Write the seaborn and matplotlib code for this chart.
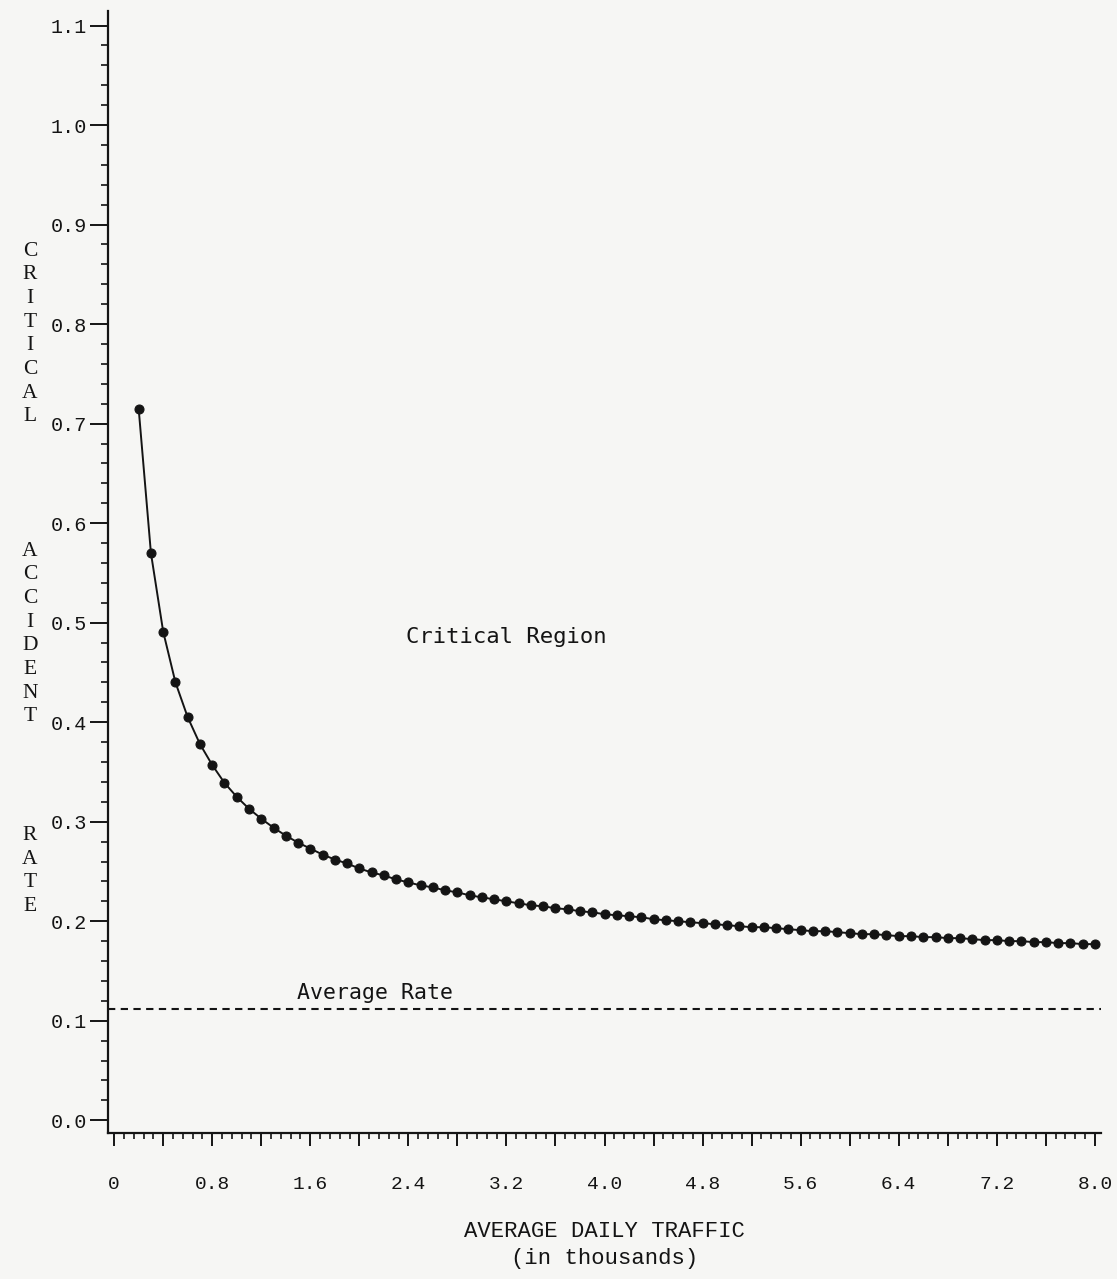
import numpy as np
import matplotlib
matplotlib.use("Agg")
import matplotlib.pyplot as plt
from matplotlib.ticker import MultipleLocator
import seaborn as sns

# DATA
adt_thousands = [0.2, 0.3, 0.4, 0.5, 0.6, 0.7, 0.8, 0.9, 1.0, 1.1,
                 1.2, 1.3, 1.4, 1.5, 1.6, 1.7, 1.8, 1.9, 2.0, 2.1,
                 2.2, 2.3, 2.4, 2.5, 2.6, 2.7, 2.8, 2.9, 3.0, 3.1,
                 3.2, 3.3, 3.4, 3.5, 3.6, 3.7, 3.8, 3.9, 4.0, 4.1,
                 4.2, 4.3, 4.4, 4.5, 4.6, 4.7, 4.8, 4.9, 5.0, 5.1,
                 5.2, 5.3, 5.4, 5.5, 5.6, 5.7, 5.8, 5.9, 6.0, 6.1,
                 6.2, 6.3, 6.4, 6.5, 6.6, 6.7, 6.8, 6.9, 7.0, 7.1,
                 7.2, 7.3, 7.4, 7.5, 7.6, 7.7, 7.8, 7.9, 8.0]
critical_rate = [0.715, 0.570, 0.491, 0.440, 0.405, 0.378, 0.357, 0.339, 0.325, 0.313,
                 0.303, 0.294, 0.286, 0.279, 0.273, 0.267, 0.262, 0.258, 0.253, 0.249,
                 0.246, 0.242, 0.239, 0.236, 0.234, 0.231, 0.229, 0.226, 0.224, 0.222,
                 0.220, 0.218, 0.216, 0.215, 0.213, 0.212, 0.210, 0.209, 0.207, 0.206,
                 0.205, 0.204, 0.202, 0.201, 0.200, 0.199, 0.198, 0.197, 0.196, 0.195,
                 0.194, 0.194, 0.193, 0.192, 0.191, 0.190, 0.190, 0.189, 0.188, 0.187,
                 0.187, 0.186, 0.185, 0.185, 0.184, 0.184, 0.183, 0.183, 0.182, 0.181,
                 0.181, 0.180, 0.180, 0.179, 0.179, 0.178, 0.178, 0.177, 0.177]
average_rate = 0.112

x_ticks = [0.0, 0.4, 0.8, 1.2, 1.6, 2.0, 2.4, 2.8, 3.2, 3.6, 4.0,
           4.4, 4.8, 5.2, 5.6, 6.0, 6.4, 6.8, 7.2, 7.6, 8.0]
x_tick_labels = ['0', '', '0.8', '', '1.6', '', '2.4', '', '3.2', '', '4.0',
                 '', '4.8', '', '5.6', '', '6.4', '', '7.2', '', '8.0']
y_ticks = [0.0, 0.1, 0.2, 0.3, 0.4, 0.5, 0.6, 0.7, 0.8, 0.9, 1.0, 1.1]
y_tick_labels = ['0.0', '0.1', '0.2', '0.3', '0.4', '0.5', '0.6', '0.7', '0.8', '0.9', '1.0', '1.1']
ylabel_words = ['CRITICAL', 'ACCIDENT', 'RATE']

# STYLE
sns.set_theme(style="ticks")
plt.rcParams['font.family'] = ['Liberation Mono', 'DejaVu Sans Mono']
ink = '#141414'
paper = '#f6f6f4'

fig = plt.figure(figsize=(11.17, 12.79), dpi=100, facecolor=paper)
ax = fig.add_axes([0.0967, 0.114, 0.889, 0.8777])
ax.set_facecolor(paper)

sns.lineplot(x=adt_thousands, y=critical_rate, ax=ax, color=ink,
             linewidth=1.4, marker='o', markersize=6.5,
             markeredgecolor=ink, markerfacecolor=ink)

ax.axhline(average_rate, color=ink, linewidth=1.5, dashes=(3.5, 2.6))

ax.set_xlim(-0.05, 8.05)
ax.set_ylim(-0.013, 1.115)

sns.despine(ax=ax)
for side in ['left', 'bottom']:
    ax.spines[side].set_linewidth(1.6)
    ax.spines[side].set_color(ink)

ax.set_xticks(x_ticks)
ax.set_xticklabels(x_tick_labels, fontsize=14, color=ink)
ax.set_yticks(y_ticks)
ax.set_yticklabels(y_tick_labels, fontsize=14.5, color=ink)
ax.xaxis.set_minor_locator(MultipleLocator(0.08))
ax.yaxis.set_minor_locator(MultipleLocator(0.02))

ax.tick_params(axis='x', which='major', length=9, width=1.4, pad=22, color=ink)
ax.tick_params(axis='x', which='minor', length=4, width=1.2, color=ink)
ax.tick_params(axis='y', which='major', length=13, width=1.4, pad=2, color=ink)
ax.tick_params(axis='y', which='minor', length=5, width=1.2, color=ink)

ax.set_xlabel('AVERAGE DAILY TRAFFIC\n(in thousands)', fontsize=16,
              color=ink, labelpad=20, linespacing=1.4)

# vertical stacked y-axis label
centres = [334, 634, 871]
for word, yc in zip(ylabel_words, centres):
    fig.text(30 / 1117, 1 - yc / 1279, '\n'.join(word), ha='center', va='center',
             fontsize=15.5, color=ink, linespacing=1.33,
             family=['Liberation Serif', 'DejaVu Serif'])

ax.text(3.2, 0.486, 'Critical Region', fontsize=16, color=ink,
        ha='center', va='center', family=['DejaVu Sans Mono'])
ax.text(1.49, 0.128, 'Average Rate', fontsize=15.5, color=ink,
        ha='left', va='center', family=['DejaVu Sans Mono'])

fig.savefig('out.png', dpi=100, facecolor=paper)
